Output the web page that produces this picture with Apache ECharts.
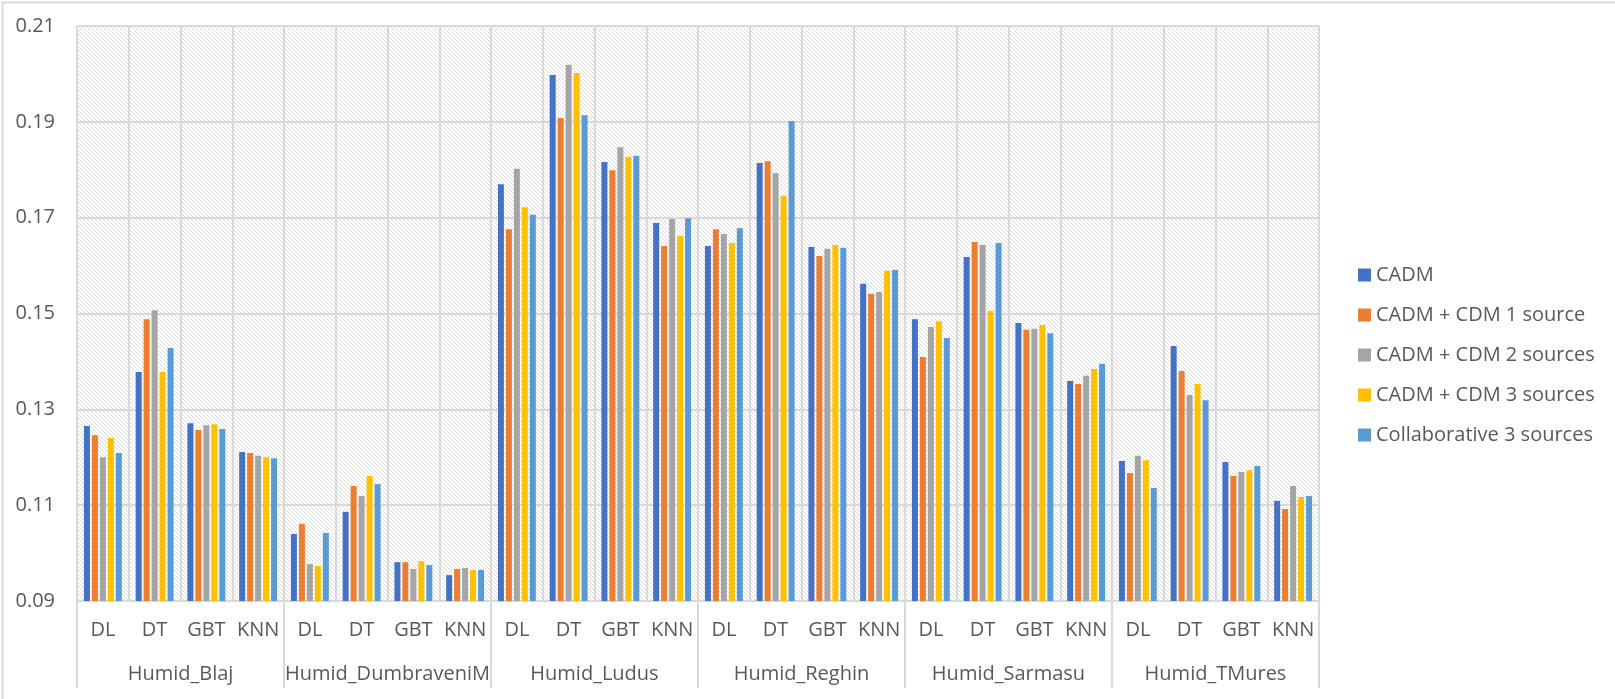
<!DOCTYPE html>
<html>
<head>
<meta charset="utf-8">
<script src="https://cdn.jsdelivr.net/npm/echarts@6/dist/echarts.min.js"></script>
<style>
html,body{margin:0;padding:0;background:#fff;}
#chart{width:1615px;height:699px;}
</style>
</head>
<body>
<div id="chart"></div>
<script>
const methods = ['DL', 'DT', 'GBT', 'KNN'];
const groups = ['Humid_Blaj', 'Humid_DumbraveniM', 'Humid_Ludus', 'Humid_Reghin', 'Humid_Sarmasu', 'Humid_TMures'];
const seriesNames = ['CADM', 'CADM + CDM 1 source', 'CADM + CDM 2 sources', 'CADM + CDM 3 sources', 'Collaborative 3 sources'];
const yTicks = [0.09, 0.11, 0.13, 0.15, 0.17, 0.19, 0.21];

const cadm = [
  0.1265, 0.1378, 0.1271, 0.1211,
  0.1040, 0.1086, 0.0981, 0.0954,
  0.1770, 0.1998, 0.1816, 0.1689,
  0.1641, 0.1814, 0.1639, 0.1562,
  0.1488, 0.1618, 0.1480, 0.1359,
  0.1192, 0.1432, 0.1190, 0.1109
];
const cdm1 = [
  0.1246, 0.1488, 0.1257, 0.1209,
  0.1061, 0.1140, 0.0981, 0.0967,
  0.1676, 0.1908, 0.1799, 0.1641,
  0.1676, 0.1818, 0.1620, 0.1541,
  0.1409, 0.1649, 0.1466, 0.1353,
  0.1167, 0.1380, 0.1161, 0.1092
];
const cdm2 = [
  0.1200, 0.1507, 0.1267, 0.1203,
  0.0977, 0.1119, 0.0967, 0.0969,
  0.1802, 0.2019, 0.1847, 0.1697,
  0.1666, 0.1793, 0.1635, 0.1545,
  0.1472, 0.1643, 0.1468, 0.1370,
  0.1203, 0.1330, 0.1169, 0.1140
];
const cdm3 = [
  0.1240, 0.1378, 0.1269, 0.1200,
  0.0973, 0.1161, 0.0983, 0.0965,
  0.1722, 0.2002, 0.1827, 0.1662,
  0.1647, 0.1745, 0.1643, 0.1589,
  0.1484, 0.1505, 0.1476, 0.1384,
  0.1194, 0.1353, 0.1173, 0.1117
];
const collab = [
  0.1209, 0.1428, 0.1259, 0.1198,
  0.1042, 0.1144, 0.0975, 0.0965,
  0.1706, 0.1914, 0.1829, 0.1699,
  0.1678, 0.1902, 0.1637, 0.1591,
  0.1449, 0.1647, 0.1459, 0.1395,
  0.1136, 0.1319, 0.1182, 0.1119
];
const seriesValues = [cadm, cdm1, cdm2, cdm3, collab];
const colors = ['#4472C4', '#ED7D31', '#A5A5A5', '#FFC000', '#5B9BD5'];

// build category labels (group x method)
const categories = [];
groups.forEach(() => methods.forEach(m => categories.push(m)));

// hatch pattern tile
const tile = document.createElement('canvas');
tile.width = 4; tile.height = 4;
const tctx = tile.getContext('2d');
tctx.fillStyle = '#ffffff';
tctx.fillRect(0, 0, 4, 4);
tctx.fillStyle = '#DCDCDC';
for (let i = 0; i < 4; i++) tctx.fillRect(i, i, 1, 1);

const FONT = '"Open Sans", "Liberation Sans", sans-serif';
const TXT = '#595959';
const GRIDC = '#D9D9D9';

const chart = echarts.init(document.getElementById('chart'), null, {renderer: 'canvas'});
chart.setOption({
  animation: false,
  backgroundColor: '#ffffff',
  textStyle: {fontFamily: FONT},
  graphic: [{
    type: 'rect', left: 0, top: 0, z: -10, silent: true,
    shape: {x: 0, y: 0, width: 1614, height: 698},
    style: {fill: 'none', stroke: GRIDC, lineWidth: 2}
  }],
  grid: {
    left: 77, top: 26, width: 1242, bottom: 98,
    show: true, borderWidth: 0,
    backgroundColor: {image: tile, repeat: 'repeat'}
  },
  legend: {
    orient: 'vertical',
    left: 1353, top: 260,
    itemWidth: 13, itemHeight: 13, itemGap: 20,
    icon: 'rect',
    textStyle: {fontFamily: FONT, fontSize: 20, color: TXT, lineHeight: 20},
    data: seriesNames
  },
  xAxis: [{
    type: 'category',
    data: categories,
    position: 'bottom',
    axisLine: {show: true, lineStyle: {color: GRIDC, width: 2}},
    axisTick: {show: false},
    splitLine: {show: true, interval: 0, lineStyle: {color: GRIDC, width: 2}},
    axisLabel: {interval: 0, margin: 19, fontFamily: FONT, fontSize: 20, color: TXT}
  }, {
    type: 'category',
    data: groups,
    position: 'bottom',
    offset: 0,
    axisLine: {show: false},
    axisTick: {show: true, interval: 0, length: 87, lineStyle: {color: GRIDC, width: 2}},
    splitLine: {show: false},
    axisLabel: {interval: 0, margin: 63, fontFamily: FONT, fontSize: 20, color: TXT}
  }],
  yAxis: {
    type: 'value',
    min: yTicks[0], max: yTicks[yTicks.length - 1], interval: 0.02,
    axisLine: {show: false},
    axisTick: {show: false},
    splitLine: {show: true, lineStyle: {color: GRIDC, width: 2}},
    axisLabel: {margin: 22, fontFamily: FONT, fontSize: 20, color: TXT,
      formatter: v => v.toFixed(2)}
  },
  series: seriesNames.map((name, i) => ({
    name: name,
    type: 'bar',
    xAxisIndex: 0,
    barWidth: 6,
    barGap: '33%',
    itemStyle: {color: colors[i]},
    data: seriesValues[i]
  }))
});
</script>
</body>
</html>
